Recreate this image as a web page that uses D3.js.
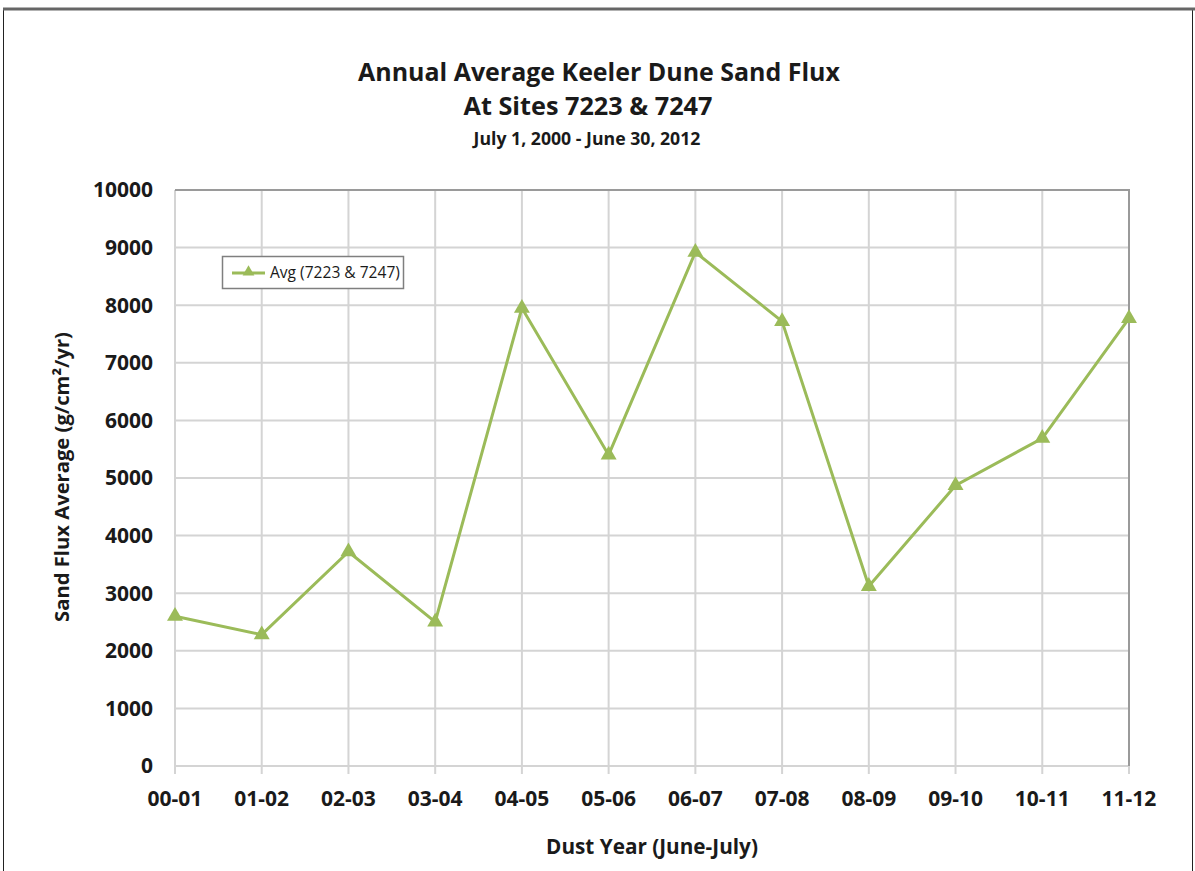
<!DOCTYPE html>
<html>
<head>
<meta charset="utf-8">
<script src="https://cdn.jsdelivr.net/npm/d3@7"></script>
<style>
  html, body { margin: 0; padding: 0; background: #fff; }
  svg { display: block; font-family: 'Open Sans', 'Noto Sans', sans-serif; }
</style>
</head>
<body>
<svg width="1195" height="871"></svg>
<script>
const years = ['00-01', '01-02', '02-03', '03-04', '04-05', '05-06',
  '06-07', '07-08', '08-09', '09-10', '10-11', '11-12']
const avgFlux = [2600, 2280, 3720, 2500, 7950, 5400, 8920, 7720, 3120, 4870, 5690, 7770]
const yTicks = [0, 1000, 2000, 3000, 4000, 5000, 6000, 7000, 8000, 9000, 10000]

const svg = d3.select('svg')
const margin = { left: 175, right: 1129, top: 190, bottom: 766 }
const green = '#9bbb59'
const ink = '#1a1a1a'

// scale a text's font so its drawn width matches the original (Calibri is narrower)
function fit (sel, width) {
  const node = sel.node()
  const size = parseFloat(sel.attr('font-size'))
  sel.attr('font-size', size * width / node.getComputedTextLength())
  return sel
}

// outer frame
svg.append('rect')
  .attr('x', 3.5).attr('y', 9)
  .attr('width', 1189).attr('height', 900)
  .attr('fill', 'none')
  .attr('stroke', '#222').attr('stroke-width', 1)
svg.append('line')
  .attr('x1', 3).attr('x2', 1195).attr('y1', 9).attr('y2', 9)
  .attr('stroke', '#666').attr('stroke-width', 3)

const x = d3.scalePoint()
  .domain(years)
  .range([margin.left, margin.right])

const y = d3.scaleLinear()
  .domain([0, 10000])
  .range([margin.bottom, margin.top])

// horizontal grid
svg.append('g')
  .selectAll('line')
  .data(yTicks)
  .join('line')
  .attr('x1', margin.left).attr('x2', margin.right)
  .attr('y1', d => y(d)).attr('y2', d => y(d))
  .attr('stroke', '#d4d4d4').attr('stroke-width', 2)

// vertical grid + ticks below axis
svg.append('g')
  .selectAll('line')
  .data(years)
  .join('line')
  .attr('x1', d => x(d)).attr('x2', d => x(d))
  .attr('y1', margin.top).attr('y2', margin.bottom + 8)
  .attr('stroke', '#d4d4d4').attr('stroke-width', 2)

// plot border top/right
svg.append('path')
  .attr('d', `M${margin.left},${margin.top}H${margin.right}V${margin.bottom}`)
  .attr('fill', 'none')
  .attr('stroke', '#9a9a9a').attr('stroke-width', 2)

// y tick labels
svg.append('g')
  .selectAll('text')
  .data(yTicks)
  .join('text')
  .attr('x', 153)
  .attr('y', d => y(d))
  .attr('dy', '0.35em')
  .attr('text-anchor', 'end')
  .attr('font-size', 21)
  .attr('font-weight', 'bold')
  .attr('fill', ink)
  .text(d => d)

// x tick labels
svg.append('g')
  .selectAll('text')
  .data(years)
  .join('text')
  .attr('x', d => x(d))
  .attr('y', 806)
  .attr('text-anchor', 'middle')
  .attr('font-size', 21)
  .attr('font-weight', 'bold')
  .attr('fill', ink)
  .text(d => d)

// line
const line = d3.line()
  .x((d, i) => x(years[i]))
  .y(d => y(d))

svg.append('path')
  .datum(avgFlux)
  .attr('d', line)
  .attr('fill', 'none')
  .attr('stroke', green)
  .attr('stroke-width', 3)

const tri = d3.symbol().type(d3.symbolTriangle).size(110)
svg.append('g')
  .selectAll('path')
  .data(avgFlux)
  .join('path')
  .attr('transform', (d, i) => `translate(${x(years[i])},${y(d)})`)
  .attr('d', tri)
  .attr('fill', green)

// titles
const title = svg.append('g').attr('font-weight', 'bold').attr('fill', ink).attr('text-anchor', 'middle')
fit(title.append('text').attr('x', 599).attr('y', 81).attr('font-size', 24)
  .text('Annual Average Keeler Dune Sand Flux'), 482)
fit(title.append('text').attr('x', 588).attr('y', 115).attr('font-size', 24)
  .text('At Sites 7223 & 7247'), 249)
fit(title.append('text').attr('x', 587).attr('y', 145).attr('font-size', 14)
  .text('July 1, 2000 - June 30, 2012'), 227)

fit(svg.append('text')
  .attr('x', 652).attr('y', 854)
  .attr('text-anchor', 'middle')
  .attr('font-size', 17).attr('font-weight', 'bold').attr('fill', ink)
  .text('Dust Year (June-July)'), 212)

fit(svg.append('text')
  .attr('transform', 'translate(69,477) rotate(-90)')
  .attr('text-anchor', 'middle')
  .attr('font-size', 17).attr('font-weight', 'bold').attr('fill', ink)
  .text('Sand Flux Average (g/cm²/yr)'), 290)

// legend
const legend = svg.append('g')
legend.append('rect')
  .attr('x', 222.5).attr('y', 256.5).attr('width', 181).attr('height', 32)
  .attr('fill', '#fff').attr('stroke', '#7f7f7f').attr('stroke-width', 1.5)
legend.append('line')
  .attr('x1', 232).attr('x2', 265).attr('y1', 273).attr('y2', 273)
  .attr('stroke', green).attr('stroke-width', 3)
legend.append('path')
  .attr('transform', 'translate(248.5,272)')
  .attr('d', d3.symbol().type(d3.symbolTriangle).size(60))
  .attr('fill', green)
fit(legend.append('text')
  .attr('x', 270).attr('y', 273).attr('dy', '0.35em')
  .attr('font-size', 13).attr('fill', ink)
  .text('Avg (7223 & 7247)'), 130)
</script>
</body>
</html>
